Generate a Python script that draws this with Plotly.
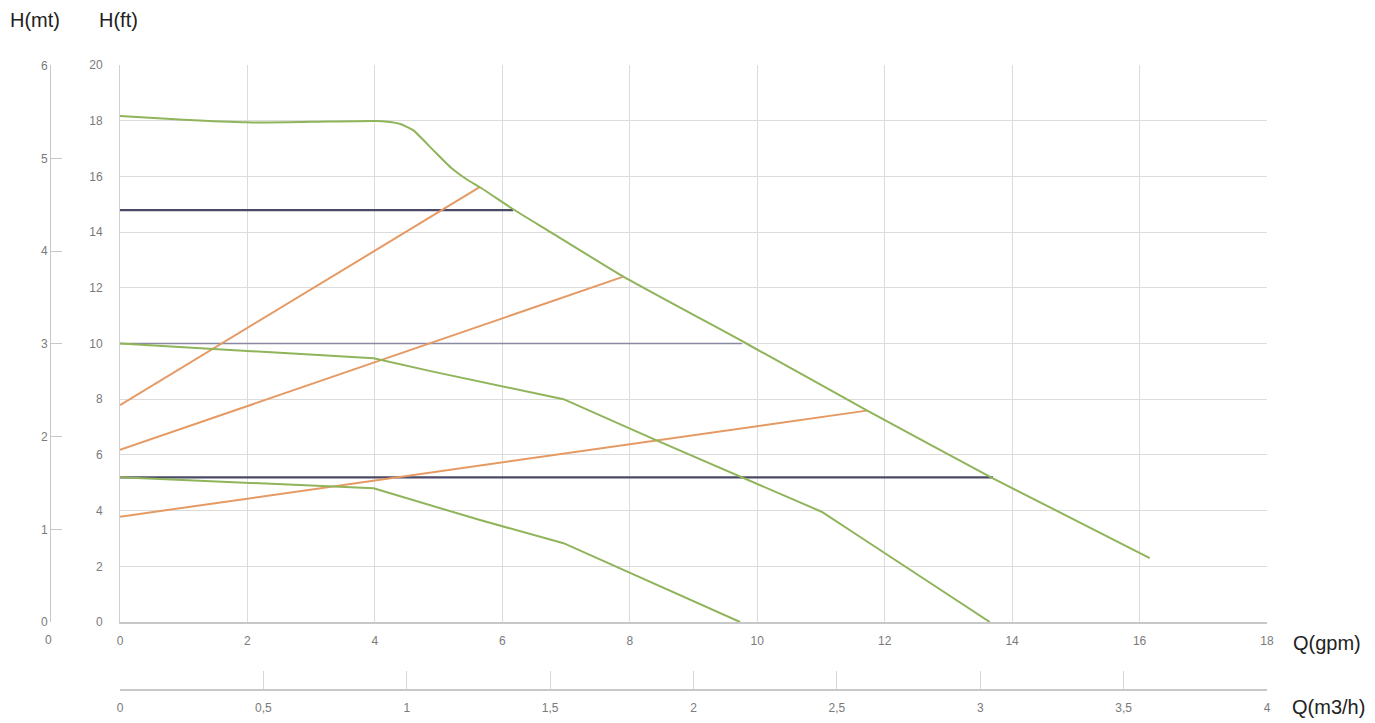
import plotly.graph_objects as go

# ---------------- data ----------------
# pump curves: flow in gpm, head in ft
q_speed3 = [0, 1, 2, 3, 4, 4.2, 4.4, 4.6, 4.9, 5.2, 5.45, 5.65, 6.17, 6.75, 7.9, 9.83, 11.72, 13.7, 16.16]
h_speed3 = [18.17, 18.03, 17.94, 17.96, 17.99, 17.96, 17.88, 17.66, 16.98, 16.3, 15.88, 15.61, 14.82, 14.01, 12.4, 10.0, 7.6, 5.16, 2.29]

q_speed2 = [0, 2, 3.98, 4.91, 6.96, 8.42, 9.73, 11.01, 11.61, 13.65]
h_speed2 = [10.0, 9.74, 9.47, 8.99, 8.0, 6.52, 5.22, 3.96, 3.06, 0]

q_speed1 = [0, 2, 3.98, 5.65, 6.96, 9.73]
h_speed1 = [5.2, 5.0, 4.8, 3.66, 2.83, 0]

# system curves (orange)
q_sys1 = [0, 5.65]
h_sys1 = [7.79, 15.62]
q_sys2 = [0, 7.9]
h_sys2 = [6.18, 12.4]
q_sys3 = [0, 11.72]
h_sys3 = [3.78, 7.59]

# constant-head lines (dark)
q_const1 = [0, 6.17]
h_const1 = [14.79, 14.79]
q_const2 = [0, 9.76]
h_const2 = [10.0, 10.0]
q_const3 = [0, 13.7]
h_const3 = [5.19, 5.19]

gpm_ticks = [0, 2, 4, 6, 8, 10, 12, 14, 16, 18]
ft_ticks = [0, 2, 4, 6, 8, 10, 12, 14, 16, 18, 20]
mt_ticks = [0, 1, 2, 3, 4, 5, 6]
m3h_ticks = [0, 0.5, 1, 1.5, 2, 2.5, 3, 3.5, 4]
m3h_labels = ["0", "0,5", "1", "1,5", "2", "2,5", "3", "3,5", "4"]

# ---------------- layout geometry ----------------
W, H = 1375, 723
L, R, T, B = 40, 108, 65, 33
PW, PH = W - L - R, H - T - B
x0_px, y0_px = 120, 622


def px_x(px):
    return (px - L) / PW


def px_y(py):
    return (H - B - py) / PH


GREEN = "#8fb45a"
ORANGE = "#e59a64"
DARK = "#4b4a66"
TICKC = "#7a7a7a"
GRID = "#dcdcdc"
FONT = "Liberation Sans, Arial, sans-serif"

fig = go.Figure()

for q, h, c, w, shape in [
    (q_const1, h_const1, DARK, 2.2, "linear"),
    (q_const2, h_const2, "#8a89a3", 1.5, "linear"),
    (q_const3, h_const3, DARK, 2.2, "linear"),
    (q_sys1, h_sys1, ORANGE, 2, "linear"),
    (q_sys2, h_sys2, ORANGE, 2, "linear"),
    (q_sys3, h_sys3, ORANGE, 2, "linear"),
    (q_speed1, h_speed1, GREEN, 2, "linear"),
    (q_speed2, h_speed2, GREEN, 2, "linear"),
    (q_speed3, h_speed3, GREEN, 2, "spline"),
]:
    fig.add_trace(go.Scatter(x=q, y=h, mode="lines",
                             line=dict(color=c, width=w, shape=shape, smoothing=0.5),
                             hoverinfo="skip", showlegend=False))

# invisible traces to carry secondary axes
fig.add_trace(go.Scatter(x=[0], y=[0], xaxis="x2", yaxis="y", mode="markers",
                         marker=dict(opacity=0), showlegend=False, hoverinfo="skip"))
fig.add_trace(go.Scatter(x=[0], y=[0], xaxis="x", yaxis="y2", mode="markers",
                         marker=dict(opacity=0), showlegend=False, hoverinfo="skip"))

ydom0 = px_y(y0_px)
xdom0 = px_x(x0_px)

fig.update_layout(
    width=W, height=H,
    margin=dict(l=L, r=R, t=T, b=B, pad=0, autoexpand=False),
    paper_bgcolor="white", plot_bgcolor="white",
    font=dict(family=FONT, color=TICKC, size=12),
    xaxis=dict(domain=[xdom0, 1], range=[0, 18], tickvals=gpm_ticks,
               showgrid=True, gridcolor=GRID, gridwidth=1, automargin=False,
               showline=True, linecolor="#c8c8c8", linewidth=1.5, zeroline=False,
               ticks="outside", ticklen=7, tickcolor="rgba(0,0,0,0)",
               tickfont=dict(size=12, color=TICKC), anchor="y"),
    yaxis=dict(domain=[ydom0, 1], range=[0, 20], tickvals=ft_ticks,
               showgrid=True, gridcolor=GRID, gridwidth=1, automargin=False,
               showline=True, linecolor="#d0d0d0", linewidth=1, zeroline=False,
               ticks="outside", ticklen=14, tickcolor="rgba(0,0,0,0)",
               tickfont=dict(size=12, color=TICKC), anchor="x"),
    xaxis2=dict(domain=[xdom0, 1], range=[0, 4], tickvals=m3h_ticks, ticktext=m3h_labels,
                overlaying="x", anchor="free", position=0, side="bottom",
                showgrid=False, zeroline=False, automargin=False,
                showline=True, linecolor="#c8c8c8", linewidth=1.5,
                ticks="inside", ticklen=18, tickcolor="#d6d6d6", tickwidth=1,
                ticklabelstandoff=7,
                tickfont=dict(size=12, color=TICKC)),
    yaxis2=dict(domain=[ydom0, 1], range=[0, 6.01], tickvals=mt_ticks,
                overlaying="y", anchor="free", position=px_x(50), side="left",
                showgrid=False, zeroline=False, automargin=False,
                showline=True, linecolor="#c8c8c8", linewidth=1,
                ticks="inside", ticklen=11, tickcolor="#c8c8c8",
                tickfont=dict(size=12, color=TICKC)),
)

annots = [
    ("H(mt)", 35, 20, 20, "#222222"),
    ("H(ft)", 118, 20, 20, "#222222"),
    ("Q(gpm)", 1327, 643, 20, "#222222"),
    ("Q(m3/h)", 1328, 707, 20, "#222222"),
    ("0", 48, 640, 12, TICKC),
]
for text, ax, ay, sz, col in annots:
    fig.add_annotation(text=text, x=px_x(ax), y=px_y(ay), xref="paper", yref="paper",
                       showarrow=False, xanchor="center", yanchor="middle",
                       font=dict(size=sz, color=col, family=FONT))

fig.write_html("out.html")
